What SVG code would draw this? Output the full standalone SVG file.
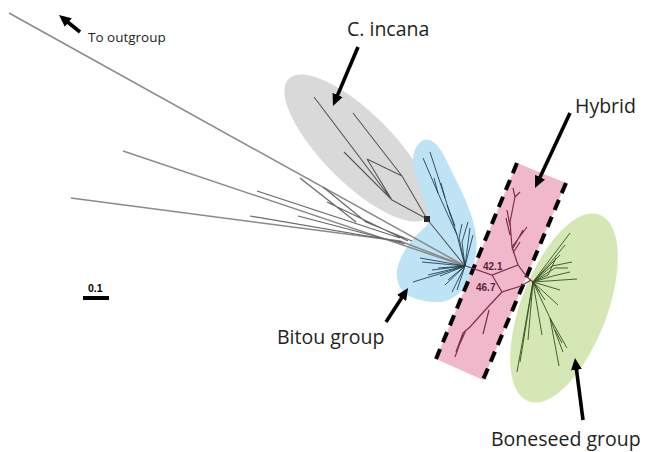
<svg xmlns="http://www.w3.org/2000/svg" width="646" height="452" viewBox="0 0 646 452">
<style>
  .lbl{font-family:"Open Sans","Liberation Sans",sans-serif;fill:#231f20;font-size:19.5px}
  .num{font-family:"Liberation Sans",Arial,sans-serif;font-weight:bold;font-size:10px;fill:#5c1f3a}
  .lg{stroke:#8a8a8a;stroke-width:1.5;fill:none}
  .dg{stroke:#666;stroke-width:1.2;fill:none}
  .gt{stroke:#585858;stroke-width:1.1;fill:none}
  .bt{stroke:#1c3b4a;stroke-width:1;fill:none;opacity:.85}
  .pt{stroke:#7b2f4f;stroke-width:1.2;fill:none}
  .gr{stroke:#2c4a18;stroke-width:1;fill:none;opacity:.85}
  .arr{stroke:#000;stroke-width:3.6;fill:none;marker-end:url(#ah)}
  .dash{stroke:#000;stroke-width:4;stroke-dasharray:11 7.3;fill:none}
</style>
<defs>
  <marker id="ah" markerUnits="userSpaceOnUse" markerWidth="12" markerHeight="11" refX="4" refY="5.5" orient="auto">
    <path d="M0,0 L12,5.5 L0,11 Z" fill="#000"/>
  </marker>
</defs>
<rect width="646" height="452" fill="#fff"/>

<g id="cincana-region">
  <ellipse cx="358" cy="148" rx="98" ry="35" transform="rotate(45 358 148)" fill="#d9d9d9"/>
</g>
<g id="bitou-region">
  <path d="M423.5,140 Q428,138 434,142.5 Q440,147 446,159.5 Q452,172 459.5,187 Q467,202 471.5,216 Q476,230 476.5,240 Q477,250 474.5,262.5 Q472,275 467,283.5 Q462,292 455,296.5 Q448,301 440.5,302 Q433,303 422.5,300.5 Q412,298 406.5,294.5 Q401,291 398.5,284 Q396,277 397,270.5 Q398,264 401.5,256.5 Q405,249 410.5,242 Q416,235 421.5,230.5 Q427,226 428.5,222.5 Q430,219 429,215.5 Q428,212 424.5,201.5 Q421,191 417,179.5 Q413,168 413,160.5 Q413,153 416,147.5 Q419,142 423.5,140 Z" fill="#bde3f5"/>
</g>
<g id="hybrid-region">
  <polygon points="517,163 566,183 483,380 436,359" fill="#f1b8cc"/>
  <line class="dash" x1="517" y1="163" x2="436" y2="359"/>
  <line class="dash" x1="566" y1="183" x2="483" y2="380"/>
</g>
<g id="boneseed-region">
  <ellipse cx="564" cy="308" rx="43" ry="100" transform="rotate(21 564 308)" fill="#d4e7b5"/>
</g>

<g id="tree">
  <!-- long branches -->
  <path class="lg" d="M9,13 L465,266"/>
  <path class="lg" d="M123,151 L465,266"/>
  <path class="lg" d="M71,198 L400,241 L465,266"/>
  <path class="dg" d="M257,191 L400,238 M250,216 L402,242 M298,216 L405,244 M327,202 L408,241 M323,187 L366,222 L412,241 M300,178 L356,222"/>
  <!-- C. incana -->
  <path class="gt" d="M314,97 L392,200 L427,219 M353,113 L402,176 L427,219 M344,152 L392,200 M367,159 L402,176 M367,159 L392,200 M427,219 L465,266"/>
  <rect x="424" y="216" width="6" height="6" fill="#2a2a2a"/>
  <!-- Bitou -->
  <path class="bt" d="M465,266 L457,235 L445,198 L430,152 M457,235 L438,193 L423,158 M445,198 L441,183 M438,193 L434,178 M451,216 L447,205 M455,226 L450,213 M465,266 L470,228 M465,266 L473,235 M465,266 L462,242 L468,222 M465,266 L459,238 L462,224 M465,266 L420,258 M465,266 L422,262 M465,266 L413,282 M465,266 L428,275 M465,266 L445,285 M465,266 L452,292 M465,266 L438,268 M465,266 L432,270 M465,266 L448,280 M465,266 L457,290 M465,266 L440,276"/>
  <!-- Hybrid -->
  <path class="pt" d="M466,266 L492,275 L518,265 L527,277 L533,282 M492,275 L502,292 L521,286 L531,280 M518,265 L512,247 L510,222 L515,197 M515,197 L513,188 M515,197 L520,192 M512,247 L527,227 M512,250 L523,230 M513,253 L520,242 M510,235 L506,218 M510,226 L507,210 M502,292 L487,308 L470,327 L463,333 L460,343 L455,357 M489,310 L483,334 M466,330 L458,348 M463,333 L456,352"/>
  <!-- Boneseed -->
  <path class="gr" d="M533,282 L570,233 M533,282 L551,262 L565,245 M533,282 L552,266 L572,262 M533,282 L577,279 M533,282 L555,268 L568,268 M533,282 L560,290 M533,282 L558,305 M533,282 L548,275 L556,258 M533,282 L545,270 L560,255 M533,282 L553,276 L570,272 M533,282 L517,372 M533,282 L522,350 L520,362 M533,282 L528,340 M533,282 L542,335 M533,282 L550,318 L567,348 M550,318 L559,366 M550,318 L563,352 M555,330 L562,343 M533,282 L540,292 M533,282 L545,300"/>
</g>

<g id="labels">
  <text class="lbl" x="88" y="42" style="font-size:13.5px">To outgroup</text>
  <text class="lbl" x="347" y="36">C. incana</text>
  <text class="lbl" x="575" y="113">Hybrid</text>
  <text class="lbl" x="277" y="344">Bitou group</text>
  <text class="lbl" x="491" y="446">Boneseed group</text>
  <text class="num" x="483" y="270">42.1</text>
  <text class="num" x="476" y="291">46.7</text>
</g>
<g id="scale">
  <text x="88" y="292" style="font-family:'Liberation Sans',Arial,sans-serif;font-weight:bold;font-size:10.5px;fill:#000">0.1</text>
  <rect x="83" y="296" width="26" height="4" fill="#000"/>
</g>

<g id="connectors">
  <line class="arr" x1="80" y1="32" x2="65.2" y2="20"/>
  <line class="arr" x1="358" y1="47" x2="336.1" y2="98.6"/>
  <line class="arr" x1="570" y1="113" x2="538.4" y2="180.8"/>
  <line class="arr" x1="386" y1="322" x2="403.7" y2="294.7"/>
  <line class="arr" x1="583" y1="420" x2="576" y2="365.9"/>
</g>
</svg>
